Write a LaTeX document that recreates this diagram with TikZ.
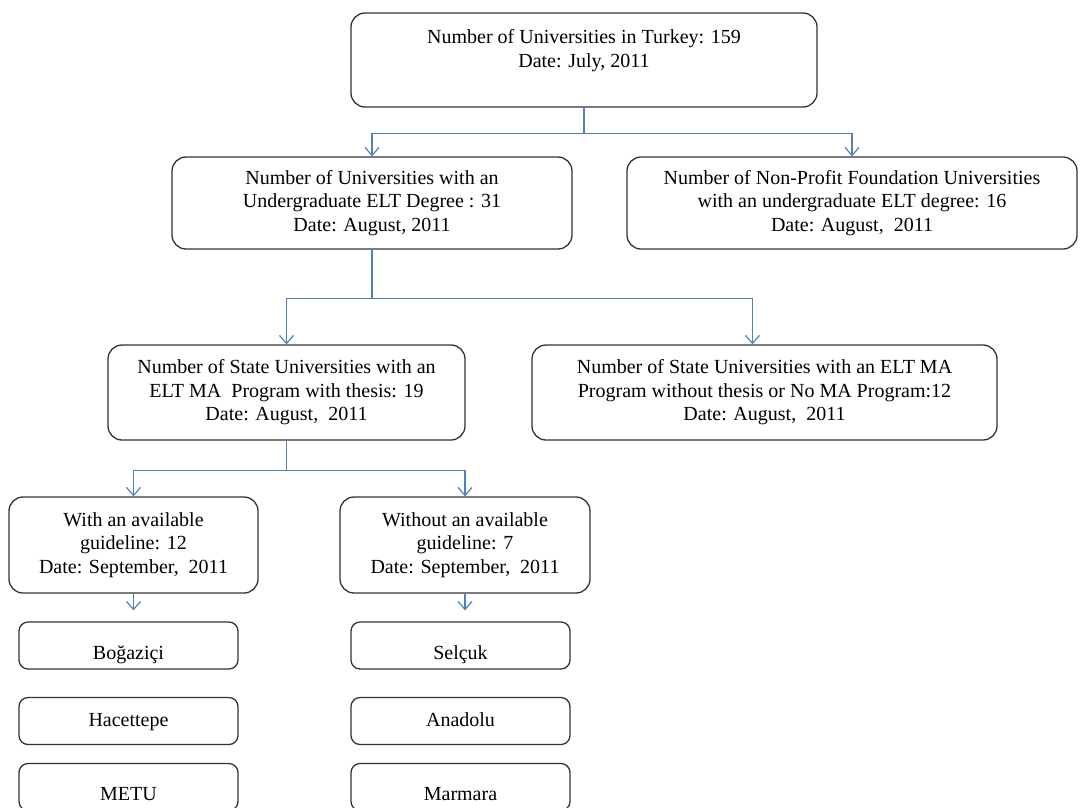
\documentclass[tikz,border=0pt]{standalone}
\usepackage{fontspec}
\setmainfont{Liberation Serif}
\usetikzlibrary{arrows.meta}
\definecolor{linkblue}{HTML}{4F81BD}
\begin{document}
\begin{tikzpicture}[x=1pt,y=-1pt,
  box/.style={draw=black!80,line width=1.3pt,rounded corners=14pt,align=center,
    font=\fontsize{20}{23.5}\selectfont,inner sep=0pt},
  uni/.style={box,rounded corners=9pt,minimum width=219pt,minimum height=47pt,
    text height=28pt,text depth=1pt},
  unimid/.style={uni,text height=14pt,text depth=3pt},
  link/.style={draw=linkblue,line width=1.2pt},
  arr/.style={link,-{Straight Barb[length=8pt,width=14pt]}}]
            \useasboundingbox (0,0) rectangle (1081,807);
            \clip (0,0) rectangle (1081,807);

            \node[box,minimum width=466pt,minimum height=94pt] (turkey) at (584,60)
              {Number of Universities in Turkey: 159\\Date: July, 2011\\\mbox{}};
            \node[box,minimum width=400pt,minimum height=92pt] (undergrad) at (372,203)
              {Number of Universities with an\\Undergraduate ELT Degree : 31\\Date: August, 2011};
            \node[box,minimum width=450pt,minimum height=92pt] (nonprofit) at (852,203)
              {Number of Non-Profit Foundation Universities\\with an undergraduate ELT degree: 16\\Date: August,\ \ 2011};
            \node[box,minimum width=357pt,minimum height=95pt] (thesis) at (286.5,392.5)
              {Number of State Universities with an\\ELT MA\ \ Program with thesis: 19\\Date: August,\ \ 2011};
            \node[box,minimum width=465pt,minimum height=95pt] (nothesis) at (764.5,392.5)
              {Number of State Universities with an ELT MA\\Program without thesis or No MA Program:12\\Date: August,\ \ 2011};
            \node[box,minimum width=249pt,minimum height=96pt] (withguide) at (133.5,545)
              {With an available\\guideline: 12\\Date: September,\ \ 2011};
            \node[box,minimum width=250pt,minimum height=96pt] (noguide) at (465,545)
              {Without an available\\guideline: 7\\Date: September,\ \ 2011};

            \node[uni] (bogazici) at (128.5,645.5) {Boğaziçi};
            \node[unimid] (hacettepe) at (128.5,721) {Hacettepe};
            \node[uni] (metu) at (128.5,787) {METU};
            \node[uni] (selcuk) at (460.5,645.5) {Selçuk};
            \node[unimid] (anadolu) at (460.5,721) {Anadolu};
            \node[uni] (marmara) at (460.5,787) {Marmara};

            \draw[link] (turkey.south) -- ++(0,26) coordinate (split1);
            \draw[arr] (split1) -| (undergrad.north);
            \draw[arr] (split1) -| (nonprofit.north);

            \draw[link] (undergrad.south) -- ++(0,49) coordinate (split2);
            \draw[arr] (split2) -| (thesis.north);
            \draw[arr] (split2) -| ([xshift=-12pt]nothesis.north);

            \draw[link] (thesis.south) -- ++(0,30) coordinate (split3);
            \draw[arr] (split3) -| (withguide.north);
            \draw[arr] (split3) -| (noguide.north);

            \draw[arr,shorten >=11pt] (withguide.south) -- (withguide.south |- bogazici.north);
            \draw[arr,shorten >=11pt] (noguide.south) -- (noguide.south |- selcuk.north);
        \end{tikzpicture}
\end{document}
